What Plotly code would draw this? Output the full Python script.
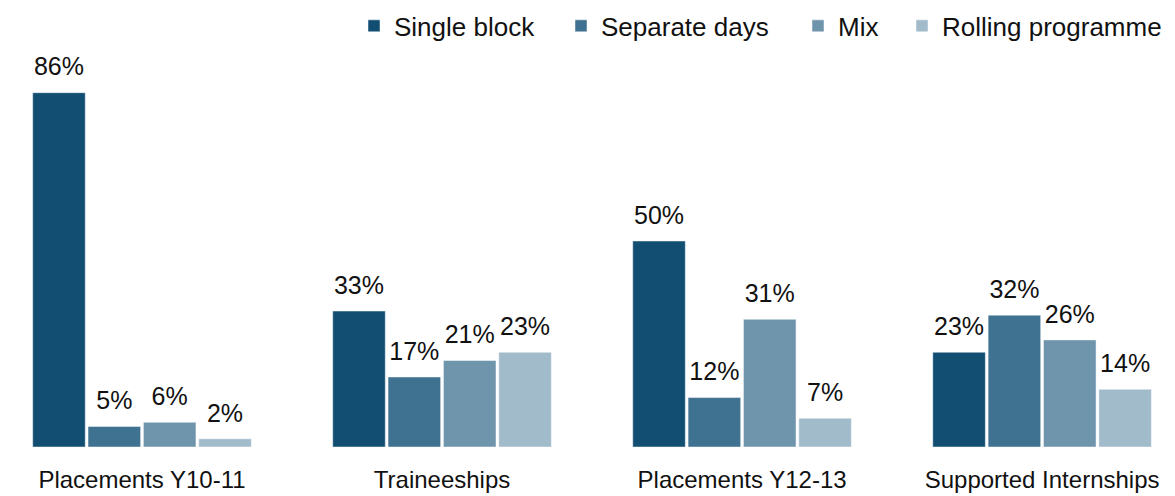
import plotly.graph_objects as go

categories = ["Placements Y10-11", "Traineeships", "Placements Y12-13", "Supported Internships"]
series_names = ["Single block", "Separate days", "Mix", "Rolling programme"]
single_block = [86, 33, 50, 23]
separate_days = [5, 17, 12, 32]
mix = [6, 21, 31, 26]
rolling_programme = [2, 23, 7, 14]
series_values = [single_block, separate_days, mix, rolling_programme]
colors = ["#124E72", "#3F7191", "#6F95AD", "#A2BBCB"]

W, H = 1175, 496
FONT = "Liberation Sans, Arial, sans-serif"
TXT = "#111111"
legend_names = ["legend", "legend2", "legend3", "legend4"]
legend_x_px = [354, 561, 798, 902]

fig = go.Figure()
for i, (name, vals) in enumerate(zip(series_names, series_values)):
    fig.add_trace(go.Bar(
        x=categories, y=vals, name=name,
        marker=dict(color=colors[i], line=dict(color="rgba(255,255,255,0.6)", width=0.8)),
        offsetgroup=str(i), legend=legend_names[i],
        hoverinfo="skip",
    ))
for i, (name, vals) in enumerate(zip(series_names, series_values)):
    fig.add_trace(go.Scatter(
        x=categories, y=vals, mode="markers+text",
        text=[f"{v}%" for v in vals], textposition="top center",
        textfont=dict(family=FONT, size=25, color=TXT),
        marker=dict(size=16, opacity=0),
        offsetgroup=str(i), showlegend=False, hoverinfo="skip",
        cliponaxis=False,
    ))

layout_legends = {}
for i, ln in enumerate(legend_names):
    layout_legends[ln] = dict(
        orientation="h", x=legend_x_px[i] / W, xanchor="left",
        y=1.022, yanchor="middle", bgcolor="rgba(0,0,0,0)",
        font=dict(family=FONT, size=26, color=TXT), itemwidth=30,
    )

fig.update_layout(
    width=W, height=H,
    margin=dict(l=0, r=0, t=35, b=49),
    paper_bgcolor="white", plot_bgcolor="white",
    barmode="group", bargap=0.262, bargroupgap=0.05,
    scattermode="group", scattergap=0.262,
    font=dict(family=FONT, size=24, color=TXT),
    xaxis=dict(
        range=[-0.4733, 3.443], showgrid=False, zeroline=False, showline=False,
        ticks="outside", ticklen=11, tickcolor="rgba(0,0,0,0)",
        tickfont=dict(family=FONT, size=24, color=TXT),
    ),
    yaxis=dict(range=[0, 100], visible=False, showgrid=False, zeroline=False),
    **layout_legends,
)

fig.write_html("out.html", config={"displayModeBar": False},
               post_script="document.body.style.margin='0';")
